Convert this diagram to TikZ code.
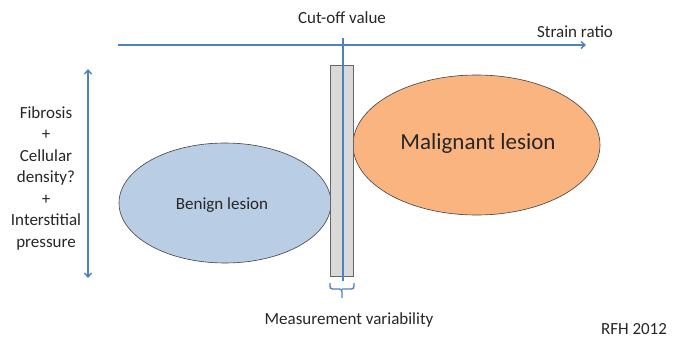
\documentclass[tikz,border=0pt]{standalone}
\usepackage{fontspec}
\setmainfont{Carlito}
\usetikzlibrary{arrows.meta,calc,shapes.geometric}
\definecolor{axisblue}{RGB}{79,129,189}
\definecolor{benignfill}{RGB}{185,205,229}
\definecolor{malfill}{RGB}{250,180,128}
\definecolor{barfill}{RGB}{217,217,217}
\tikzset{
  axis/.style={draw=axisblue, line width=1.4pt},
  tip/.style={-{Straight Barb[length=4pt,width=7pt]}},
  lesion/.style={ellipse, draw=black!75, line width=0.6pt, inner sep=0pt},
  lbl/.style={font=\fontsize{17}{19}\selectfont, text=black!85, inner sep=0pt},
}
\begin{document}
\begin{tikzpicture}[x=1pt,y=-1pt]
\useasboundingbox (0,0) rectangle (674,345);
% ellipses
\node[lesion, fill=benignfill, minimum width=212pt, minimum height=120pt] (benign) at (225,203) {};
\node[lesion, fill=malfill, minimum width=247pt, minimum height=140pt] (malig) at (476.5,145) {};
\node[lbl] at (222,205) {Benign lesion};
\node[lbl, font=\fontsize{23}{26}\selectfont] at (478,143) {Malignant lesion};
% bar
\node[draw=black!60, fill=barfill, line width=0.6pt, minimum width=23pt, minimum height=211pt, inner sep=0pt] (bar) at (341.5,170.5) {};
% axes
\coordinate (hs) at (118,45);
\coordinate (he) at (586,45);
\draw[axis, tip] (hs) -- (he);
\coordinate (cs) at (343,38);
\coordinate (ce) at (343,281);
\draw[axis] (cs) -- (ce);
\coordinate (vs) at (88,278);
\coordinate (ve) at (88,69);
\draw[axis, {Straight Barb[length=4pt,width=7pt]}-{Straight Barb[length=4pt,width=7pt]}] (vs) -- (ve);
% brace
\coordinate (bl) at (330,283);
\coordinate (br) at (354,283);
\coordinate (bc) at (342,289);
\coordinate (bm) at (342,298);
\draw[axisblue, line width=1.4pt, rounded corners=2.5pt]
  (bl) |- (bc) -- (bm)
  (bc) -| (br);
% labels
\node[lbl] (cut) at (342,18) {Cut-off value};
\node[lbl] (strain) at (575,32) {Strain ratio};
\node[lbl] (meas) at (349,320) {Measurement variability};
\node[lbl] (rfh) at (634,329) {RFH 2012};
\node[lbl, align=center, font=\fontsize{17}{21.5}\selectfont] (left) at (46,178) {Fibrosis\\+\\Cellular\\density?\\+\\Interstitial\\pressure};
\end{tikzpicture}
\end{document}
